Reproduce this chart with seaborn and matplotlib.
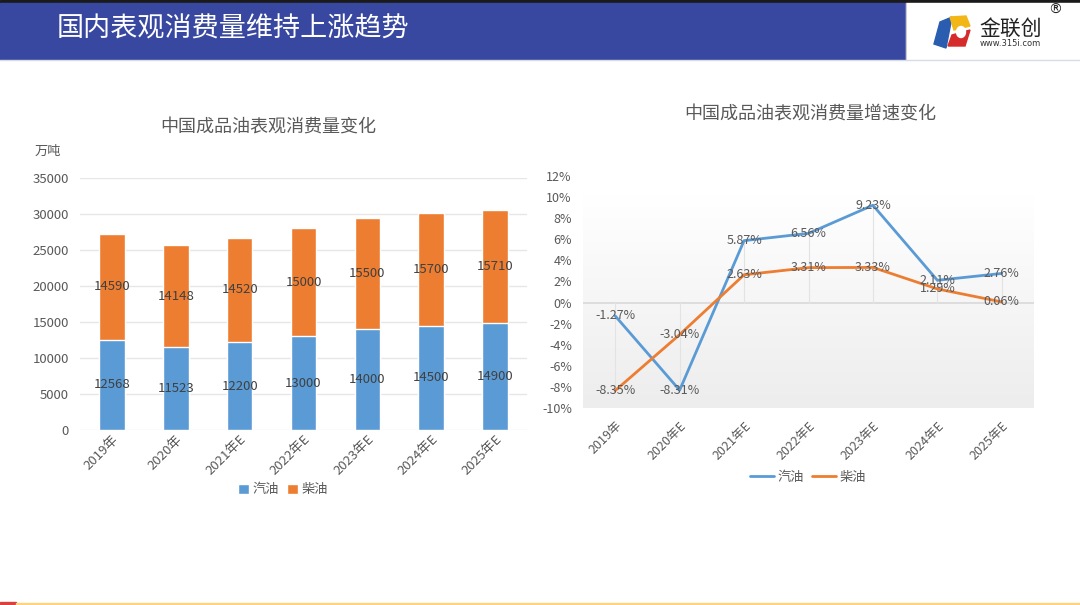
import numpy as np
import pandas as pd
import matplotlib
matplotlib.use("Agg")
import matplotlib.pyplot as plt
import seaborn as sns
from matplotlib.patches import Rectangle, Ellipse, Polygon

# ---------------- data ----------------
years_left = ["2019年", "2020年", "2021年E", "2022年E", "2023年E", "2024年E", "2025年E"]
gasoline = [12568, 11523, 12200, 13000, 14000, 14500, 14900]
diesel = [14590, 14148, 14520, 15000, 15500, 15700, 15710]

years_right = ["2019年", "2020年E", "2021年E", "2022年E", "2023年E", "2024年E", "2025年E"]
gas_growth = [-1.27, -8.31, 5.87, 6.56, 9.23, 2.11, 2.76]
dsl_growth = [-8.35, -3.04, 2.63, 3.31, 3.33, 1.29, 0.06]

left_yticks = [0, 5000, 10000, 15000, 20000, 25000, 30000, 35000]
right_yticks = [-10, -8, -6, -4, -2, 0, 2, 4, 6, 8, 10, 12]

header_title = "国内表观消费量维持上涨趋势"
left_title = "中国成品油表观消费量变化"
right_title = "中国成品油表观消费量增速变化"
unit_label = "万吨"
series_names = ["汽油", "柴油"]

# ---------------- style ----------------
sns.set_theme(style="white")
plt.rcParams['font.family'] = ['Noto Sans CJK SC', 'DejaVu Sans']
plt.rcParams['axes.unicode_minus'] = False

BLUE = "#5B9BD5"
ORANGE = "#ED7D31"
TICK = "#595959"
LABEL = "#404040"

W, H = 1080, 605
fig = plt.figure(figsize=(W / 100, H / 100), dpi=100)
fig.patch.set_facecolor("white")

def fx(x):
    return x / W

def fy(y):
    return 1 - y / H

# ---------------- header ----------------
hdr = fig.add_axes([0, 0, 1, 1], zorder=-5)
hdr.set_xlim(0, W)
hdr.set_ylim(H, 0)
hdr.axis("off")
hdr.add_patch(Rectangle((0, 0), W, 3, color="#1a1a1a"))
hdr.add_patch(Rectangle((0, 3), 906, 56, color="#3848A0"))
hdr.add_patch(Rectangle((906, 3), W - 906, 56, color="white"))
hdr.plot([906, 906], [3, 59], color="#cccccc", lw=0.8)
hdr.plot([0, W], [60, 60], color="#d8dbe8", lw=1)
hdr.text(57, 29, header_title, color="white", fontsize=19.5, va="center", ha="left")
# logo
hdr.add_patch(Polygon([[940, 22], [952, 17], [946, 48], [934, 44]], closed=True, color="#2a5db0"))
hdr.add_patch(Polygon([[950, 17], [966, 16], [970, 26], [954, 30]], closed=True, color="#F2B617"))
hdr.add_patch(Polygon([[952, 35], [970, 30], [965, 46], [948, 46]], closed=True, color="#D62B2B"))
hdr.add_patch(Ellipse((961, 32), 9, 11, color="white"))
hdr.text(979, 29, "金联创", fontsize=15, color="#222222", va="center", ha="left")
hdr.text(1048, 10, "®", fontsize=10, color="#222222", va="center", ha="left", family="DejaVu Sans")
hdr.text(980, 44, "www.315i.com", fontsize=6, color="#333333", va="center", ha="left", family="DejaVu Sans")
# bottom strip
hdr.add_patch(Rectangle((0, 602), 16, 3, color="#D94040"))
hdr.add_patch(Rectangle((16, 603), W - 16, 2, color="#FFD27F"))

# ---------------- left chart ----------------
df_left = pd.DataFrame({"year": years_left, "gasoline": gasoline, "diesel": diesel})
df_left["total"] = df_left["gasoline"] + df_left["diesel"]

axL = fig.add_axes([fx(80), fy(430), fx(527) - fx(80), fy(178) - fy(430)])
sns.barplot(data=df_left, x="year", y="total", color=ORANGE, width=0.4, ax=axL,
            saturation=1, zorder=3, label=series_names[1])
sns.barplot(data=df_left, x="year", y="gasoline", color=BLUE, width=0.4, ax=axL,
            saturation=1, zorder=3, label=series_names[0])
axL.set_ylim(0, 35000)
axL.set_xlim(-0.5, len(years_left) - 0.5)
axL.set_yticks(left_yticks)
axL.set_yticklabels([str(v) for v in left_yticks])
axL.grid(axis="y", color="#E6E6E6", lw=1, zorder=0)
axL.set_axisbelow(True)
for s in axL.spines.values():
    s.set_visible(False)
axL.set_xlabel("")
axL.set_ylabel("")
axL.tick_params(axis="y", colors=TICK, labelsize=9.5, length=0, pad=8)
axL.tick_params(axis="x", colors=TICK, labelsize=9.5, length=0, pad=2)
for lab in axL.get_xticklabels():
    lab.set_rotation(45)
    lab.set_ha("right")
    lab.set_rotation_mode("anchor")
for i, (g, d) in enumerate(zip(gasoline, diesel)):
    axL.text(i, g / 2, str(g), ha="center", va="center", color=LABEL, fontsize=9.5, zorder=5)
    axL.text(i, g + d / 2, str(d), ha="center", va="center", color=LABEL, fontsize=9.5, zorder=5)
fig.text(fx(268), fy(128), left_title, ha="center", va="center", color=TICK, fontsize=13)
fig.text(fx(35), fy(151), unit_label, ha="left", va="center", color=TICK, fontsize=9.5)
hL, lL = axL.get_legend_handles_labels()
order = [lL.index(series_names[0]), lL.index(series_names[1])]
axL.legend([hL[k] for k in order], [lL[k] for k in order], loc="center",
           bbox_to_anchor=(fx(283), fy(490)), bbox_transform=fig.transFigure, ncol=2,
           frameon=False, handlelength=0.8, handleheight=0.8, handletextpad=0.3,
           columnspacing=0.6, fontsize=9.5, labelcolor=TICK)

# ---------------- right chart ----------------
df_right = pd.DataFrame({"year": years_right * 2,
                         "growth": gas_growth + dsl_growth,
                         "series": [series_names[0]] * 7 + [series_names[1]] * 7})

axR = fig.add_axes([fx(583), fy(408), fx(1034) - fx(583), fy(176) - fy(408)])
axR.set_xlim(-0.5, len(years_right) - 0.5)
axR.set_ylim(-10, 12)
grad = np.linspace(1.0, 0.0, 200).reshape(-1, 1)
axR.imshow(grad, extent=(-0.5, len(years_right) - 0.5, -10, 10.2), aspect="auto",
           cmap=matplotlib.colors.LinearSegmentedColormap.from_list("g", ["#EDEDED", "#FFFFFF"]),
           vmin=0, vmax=1, zorder=0, origin="upper")
axR.axhline(0, color="#D9D9D9", lw=1.2, zorder=1)
for i, (a, b) in enumerate(zip(gas_growth, dsl_growth)):
    lo = min(0, a, b)
    hi = max(0, a, b)
    axR.plot([i, i], [lo, hi], color="#E3E3E3", lw=0.8, zorder=1)
sns.lineplot(data=df_right, x="year", y="growth", hue="series", sort=False,
             palette=[BLUE, ORANGE], lw=2, ax=axR, zorder=3)
axR.set_xlim(-0.5, len(years_right) - 0.5)
axR.set_ylim(-10, 12)
axR.set_yticks(right_yticks)
axR.set_yticklabels([f"{v}%" for v in right_yticks])
for s in axR.spines.values():
    s.set_visible(False)
axR.set_xlabel("")
axR.set_ylabel("")
axR.tick_params(axis="y", colors=TICK, labelsize=9, length=0, pad=8)
axR.tick_params(axis="x", colors=TICK, labelsize=9, length=0, pad=8)
for lab in axR.get_xticklabels():
    lab.set_rotation(45)
    lab.set_ha("right")
    lab.set_rotation_mode("anchor")
for i, (a, b) in enumerate(zip(gas_growth, dsl_growth)):
    axR.text(i, a, f"{a:.2f}%", ha="center", va="center", color=TICK, fontsize=9, zorder=5)
    axR.text(i, b, f"{b:.2f}%", ha="center", va="center", color=TICK, fontsize=9, zorder=5)
fig.text(fx(810), fy(115), right_title, ha="center", va="center", color=TICK, fontsize=13)
axR.legend(loc="center", bbox_to_anchor=(fx(808), fy(477)), bbox_transform=fig.transFigure,
           ncol=2, frameon=False, handlelength=1.8, handletextpad=0.3, columnspacing=0.6,
           fontsize=9.5, labelcolor=TICK, title=None)

fig.savefig("out.png", dpi=100)
